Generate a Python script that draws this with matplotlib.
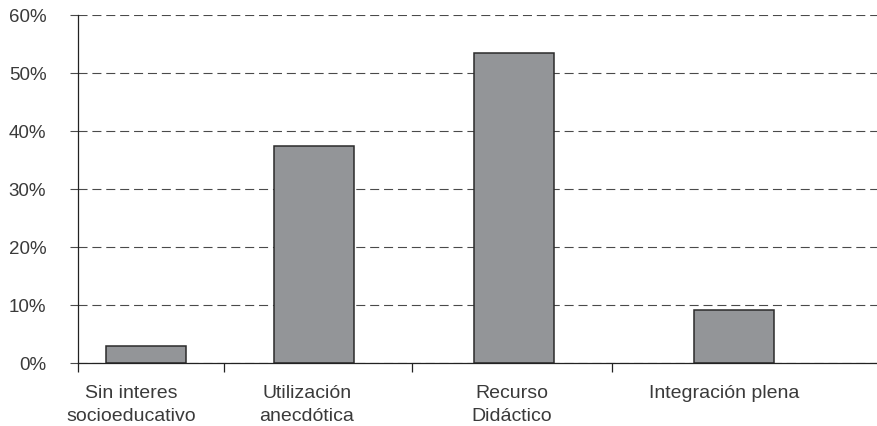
import matplotlib
matplotlib.use("Agg")
import matplotlib.pyplot as plt
from matplotlib.ticker import FixedLocator, PercentFormatter

# data
categories = ["Sin interes\nsocioeducativo", "Utilización\nanecdótica",
              "Recurso\nDidáctico", "Integración plena"]
values = [3.0, 37.4, 53.5, 9.2]
y_ticks = [0, 10, 20, 30, 40, 50, 60]

# layout (category units, the axis spans 0..4)
bar_pos = [0.34, 1.18, 2.18, 3.28]
label_pos = [0.265, 1.145, 2.17, 3.23]
separators = [0.0, 0.73, 1.67, 2.67]

plt.rcParams["font.family"] = ["Liberation Sans", "DejaVu Sans"]
plt.rcParams["lines.scale_dashes"] = False

fig = plt.figure(figsize=(8.78, 4.27), dpi=100)
ax = fig.add_axes([78 / 878, 1 - 364 / 427, 800 / 878, 348 / 427])

ax.bar(bar_pos, values, width=0.4, color="#939598", edgecolor="#2b2b2b",
       linewidth=1.1, zorder=3)

ax.set_xlim(0, 4)
ax.set_ylim(0, 60)

ax.yaxis.set_major_locator(FixedLocator(y_ticks))
ax.yaxis.set_major_formatter(PercentFormatter(decimals=0))
ax.grid(axis="y", color="#4a4a4a", linewidth=0.8, linestyle=(0, (6.5, 3.5)),
        zorder=1)

ax.xaxis.set_major_locator(FixedLocator(separators))
ax.xaxis.set_minor_locator(FixedLocator(label_pos))
ax.set_xticklabels([])
ax.set_xticklabels(categories, minor=True, linespacing=1.45)
ax.tick_params(axis="x", which="major", direction="out", length=6.5,
               width=0.9, color="#222222")
ax.tick_params(axis="x", which="minor", length=0, pad=15,
               labelsize=14, labelcolor="#3a3a3a")
ax.tick_params(axis="y", direction="out", length=5.8, width=0.8,
               color="#4a4a4a", pad=17, labelsize=13.5, labelcolor="#3a3a3a")

for side in ("top", "right"):
    ax.spines[side].set_visible(False)
for side in ("left", "bottom"):
    ax.spines[side].set_color("#222222")
    ax.spines[side].set_linewidth(0.9)
ax.spines["bottom"].set_zorder(4)

fig.savefig("out.png", dpi=100)
